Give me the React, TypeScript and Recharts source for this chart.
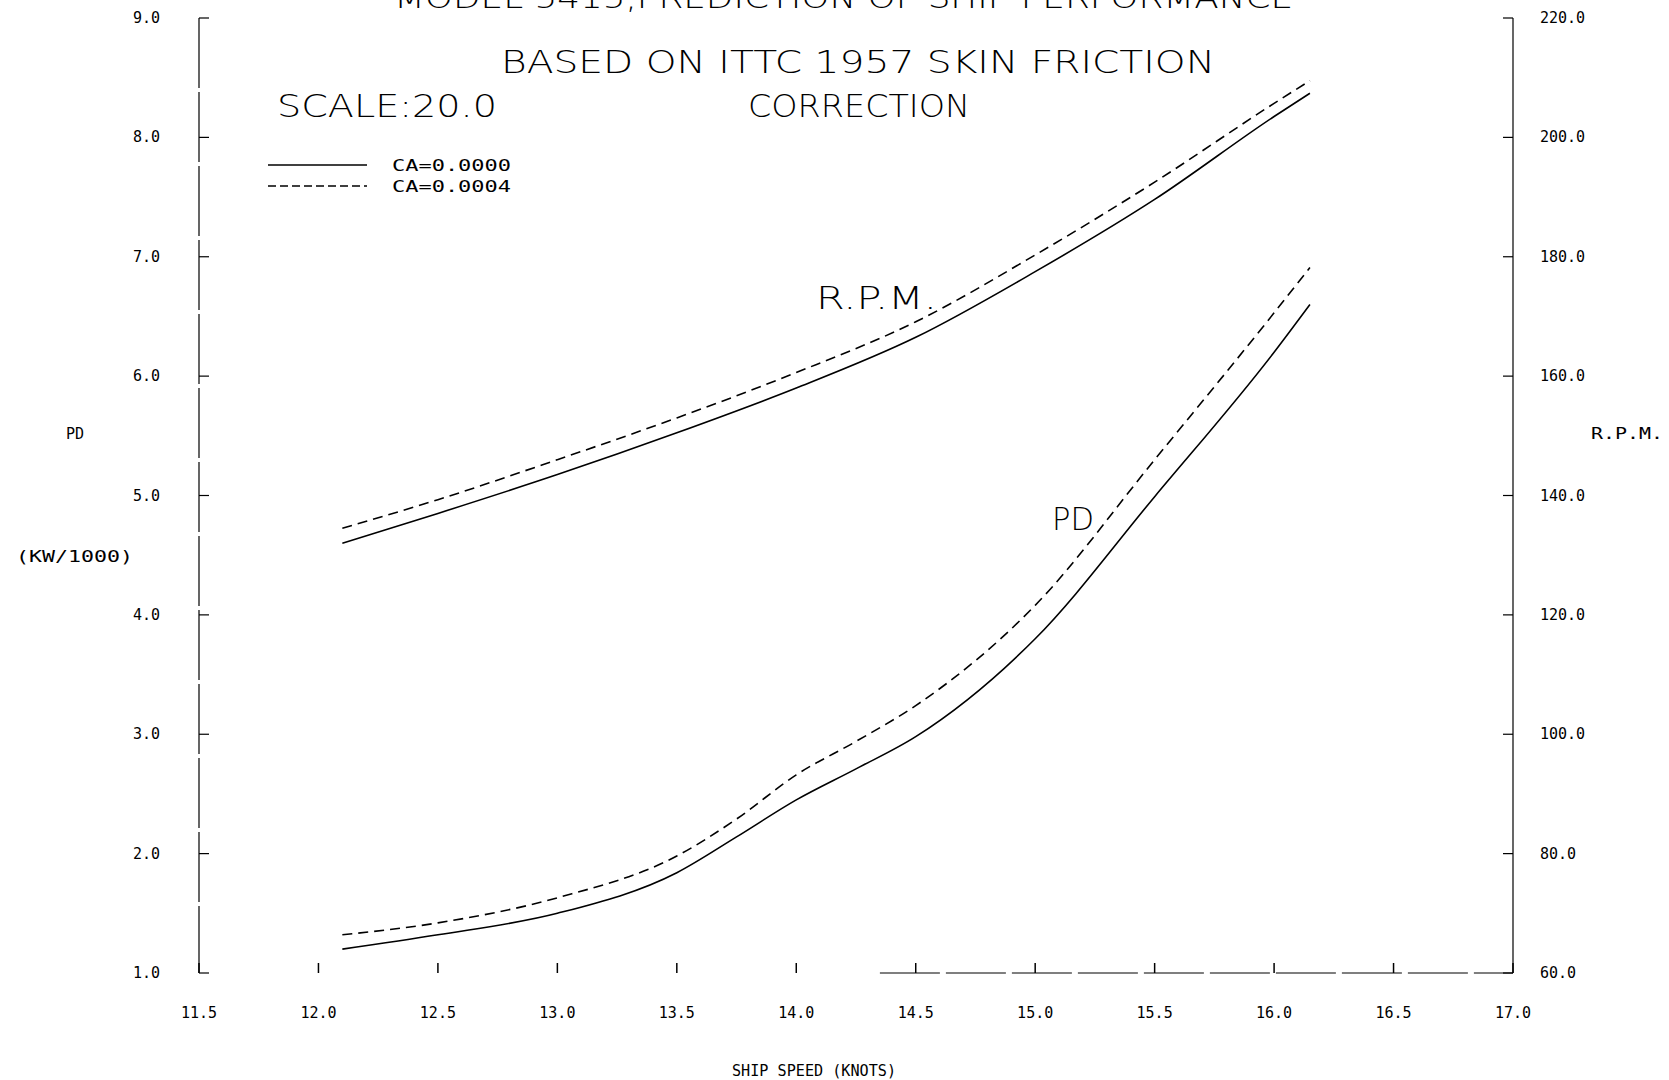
import React from "react";
import { LineChart, Line, XAxis, YAxis, ReferenceLine } from "recharts";

const speeds = [12.1, 12.5, 13.0, 13.5, 13.75, 14.0, 14.25, 14.5, 15.0, 15.5, 16.0, 16.15];
const pdCa0000 = [1.2, 1.32, 1.5, 1.84, 2.14, 2.45, 2.71, 2.98, 3.8, 4.99, 6.2, 6.6];
const pdCa0004 = [1.32, 1.42, 1.63, 1.98, 2.29, 2.66, 2.94, 3.24, 4.08, 5.3, 6.53, 6.91];
const rpmCa0000 = [132.0, 137.0, 143.5, 150.5, null, 158.0, null, 166.5, 177.5, 189.6, 203.5, 207.4];
const rpmCa0004 = [134.5, 139.3, 146.0, 153.0, null, 160.6, null, 169.1, 180.3, 192.5, 205.7, 209.5];

const xTicks = [11.5, 12.0, 12.5, 13.0, 13.5, 14.0, 14.5, 15.0, 15.5, 16.0, 16.5, 17.0];
const pdTicks = [1, 2, 3, 4, 5, 6, 7, 8, 9];
const rpmTicks = [60, 80, 100, 120, 140, 160, 180, 200, 220];

const legendLabels = ["CA=0.0000", "CA=0.0004"];

const data = speeds.map((s, i) => ({
  speed: s,
  pd0: pdCa0000[i],
  pd4: pdCa0004[i],
  rpm0: rpmCa0000[i],
  rpm4: rpmCa0004[i],
}));

const MONO = "'DejaVu Sans Mono', 'Liberation Mono', monospace";
const THIN = "'DejaVu Sans', sans-serif";
const DASH = "10 6";

const BottomTick = (props: any) => {
  const { x, y, payload } = props;
  return (
    <g>
      <line x1={x} y1={y} x2={x} y2={y - 10} stroke="#000" strokeWidth={1.5} />
      <text x={x} y={y + 45} textAnchor="middle" fontFamily={MONO} fontSize={15} fill="#000">
        {Number(payload.value).toFixed(1)}
      </text>
    </g>
  );
};

const TopTick = (props: any) => {
  const { x, y } = props;
  return <line x1={x} y1={y} x2={x} y2={y + 9} stroke="#000" strokeWidth={1.2} />;
};

const LeftTick = (props: any) => {
  const { x, y, payload } = props;
  return (
    <g>
      <line x1={x} y1={y} x2={x + 10} y2={y} stroke="#000" strokeWidth={1.2} />
      <text x={x - 39} y={y + 5} textAnchor="end" fontFamily={MONO} fontSize={15} fill="#000">
        {Number(payload.value).toFixed(1)}
      </text>
    </g>
  );
};

const RightTick = (props: any) => {
  const { x, y, payload } = props;
  return (
    <g>
      <line x1={x} y1={y} x2={x - 10} y2={y} stroke="#000" strokeWidth={1.2} />
      <text x={x + 27} y={y + 5} textAnchor="start" fontFamily={MONO} fontSize={15} fill="#000">
        {Number(payload.value).toFixed(1)}
      </text>
    </g>
  );
};

export default function App() {
  return (
    <div style={{ position: "absolute", left: 0, top: 0, width: 1669, height: 1080, background: "#fff" }}>
      <LineChart
        width={1669}
        height={1080}
        data={data}
        margin={{ top: 18, right: 96, bottom: 77, left: 139 }}
      >
        <XAxis
          xAxisId="top"
          orientation="top"
          type="number"
          dataKey="speed"
          domain={[11.5, 17]}
          ticks={xTicks}
          height={0}
          axisLine={false}
          tickLine={false}
          tickSize={0}
          tickMargin={0}
          tick={<TopTick />}
          interval={0}
        />
        <XAxis
          xAxisId="main"
          type="number"
          dataKey="speed"
          domain={[11.5, 17]}
          ticks={xTicks}
          height={30}
          axisLine={false}
          tickLine={false}
          tickSize={0}
          tickMargin={0}
          tick={<BottomTick />}
          interval={0}
        />
        <YAxis
          yAxisId="pd"
          type="number"
          domain={[1, 9]}
          ticks={pdTicks}
          width={60}
          axisLine={{ stroke: "#000", strokeWidth: 1.2, strokeDasharray: "70 4" }}
          tickLine={false}
          tickSize={0}
          tickMargin={0}
          tick={<LeftTick />}
          interval={0}
        />
        <YAxis
          yAxisId="rpm"
          orientation="right"
          type="number"
          domain={[60, 220]}
          ticks={rpmTicks}
          width={60}
          axisLine={{ stroke: "#000", strokeWidth: 1.2 }}
          tickLine={false}
          tickSize={0}
          tickMargin={0}
          tick={<RightTick />}
          interval={0}
        />
        <ReferenceLine
          xAxisId="main"
          yAxisId="pd"
          segment={[{ x: 14.35, y: 1 }, { x: 17, y: 1 }]}
          stroke="#000"
          strokeWidth={1.2}
          strokeDasharray="60 6"
        />
        <Line xAxisId="main" yAxisId="pd" type="monotone" dataKey="pd0" stroke="#000" strokeWidth={1.6} dot={false} isAnimationActive={false} />
        <Line xAxisId="main" yAxisId="pd" type="monotone" dataKey="pd4" stroke="#000" strokeWidth={1.6} strokeDasharray={DASH} dot={false} isAnimationActive={false} />
        <Line xAxisId="main" yAxisId="rpm" type="monotone" dataKey="rpm0" connectNulls stroke="#000" strokeWidth={1.6} dot={false} isAnimationActive={false} />
        <Line xAxisId="main" yAxisId="rpm" type="monotone" dataKey="rpm4" connectNulls stroke="#000" strokeWidth={1.6} strokeDasharray={DASH} dot={false} isAnimationActive={false} />
      </LineChart>
      <svg
        width={1669}
        height={1080}
        style={{ position: "absolute", left: 0, top: 0, pointerEvents: "none" }}
      >
        <text x={394} y={8} fontFamily={THIN} fontWeight={200} fontSize={30} textLength={899} lengthAdjust="spacingAndGlyphs" fill="#000">
          MODEL 5415,PREDICTION OF SHIP PERFORMANCE
        </text>
        <text x={501} y={73} fontFamily={THIN} fontWeight={200} fontSize={32} textLength={714} lengthAdjust="spacingAndGlyphs" fill="#000">
          BASED ON ITTC 1957 SKIN FRICTION
        </text>
        <text x={277} y={117} fontFamily={THIN} fontWeight={200} fontSize={32} textLength={220} lengthAdjust="spacingAndGlyphs" fill="#000">
          SCALE:20.0
        </text>
        <text x={748} y={117} fontFamily={THIN} fontWeight={200} fontSize={32} textLength={222} lengthAdjust="spacingAndGlyphs" fill="#000">
          CORRECTION
        </text>
        <text x={816} y={309} fontFamily={THIN} fontWeight={200} fontSize={32} textLength={121} lengthAdjust="spacingAndGlyphs" fill="#000">
          R.P.M.
        </text>
        <text x={1052} y={530} fontFamily={THIN} fontWeight={200} fontSize={32} textLength={42} lengthAdjust="spacingAndGlyphs" fill="#000">
          PD
        </text>

        <line x1={268} y1={165} x2={367} y2={165} stroke="#000" strokeWidth={1.5} />
        <line x1={268} y1={186} x2={367} y2={186} stroke="#000" strokeWidth={1.5} strokeDasharray="8 4" />
        <text x={392} y={171} fontFamily={MONO} fontSize={16} textLength={119} lengthAdjust="spacingAndGlyphs" fill="#000">
          {legendLabels[0]}
        </text>
        <text x={392} y={192} fontFamily={MONO} fontSize={16} textLength={119} lengthAdjust="spacingAndGlyphs" fill="#000">
          {legendLabels[1]}
        </text>

        <text x={66} y={439} fontFamily={MONO} fontSize={15} fill="#000">PD</text>
        <text x={16} y={562} fontFamily={MONO} fontSize={15} textLength={117} lengthAdjust="spacingAndGlyphs" fill="#000">(KW/1000)</text>
        <text x={1591} y={439} fontFamily={MONO} fontSize={15} textLength={72} lengthAdjust="spacingAndGlyphs" fill="#000">R.P.M.</text>
        <text x={732} y={1076} fontFamily={MONO} fontSize={15} textLength={164} lengthAdjust="spacingAndGlyphs" fill="#000">SHIP SPEED (KNOTS)</text>
      </svg>
    </div>
  );
}
